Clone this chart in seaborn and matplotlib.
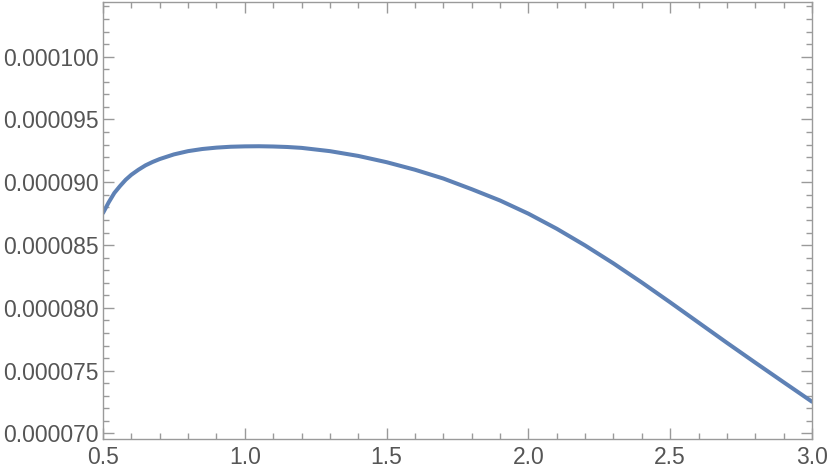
import matplotlib
matplotlib.use("Agg")
import matplotlib.pyplot as plt
import matplotlib.ticker as mticker
import seaborn as sns
import pandas as pd

x_vals = [0.50, 0.52, 0.54, 0.56, 0.58, 0.60, 0.625, 0.65, 0.675, 0.70,
          0.75, 0.80, 0.85, 0.90, 0.95, 1.00, 1.05, 1.10, 1.15, 1.20,
          1.30, 1.40, 1.50, 1.60, 1.70, 1.80, 1.90, 2.00, 2.10, 2.20,
          2.30, 2.40, 2.50, 2.60, 2.70, 2.80, 2.90, 3.00]
y_vals_e5 = [8.755, 8.84, 8.915, 8.97, 9.02, 9.06, 9.10, 9.135, 9.162, 9.185,
             9.222, 9.248, 9.265, 9.276, 9.283, 9.286, 9.287, 9.285, 9.281, 9.274,
             9.248, 9.21, 9.16, 9.10, 9.03, 8.945, 8.855, 8.75, 8.63, 8.497,
             8.354, 8.202, 8.044, 7.883, 7.722, 7.564, 7.408, 7.253]
x_ticks = [0.5, 1.0, 1.5, 2.0, 2.5, 3.0]
y_ticks = [0.000070, 0.000075, 0.000080, 0.000085, 0.000090, 0.000095, 0.000100]

df = pd.DataFrame({"x": x_vals, "y": [v * 1e-5 for v in y_vals_e5]})

sns.set_theme(style="ticks")
plt.rcParams["font.family"] = ["Liberation Sans", "DejaVu Sans"]

fig = plt.figure(figsize=(8.3, 4.75), dpi=100)
ax = fig.add_axes([103 / 830, 1 - 439 / 475, (812 - 103) / 830, (439 - 2) / 475])

sns.lineplot(data=df, x="x", y="y", ax=ax, color="#5E81B5", linewidth=2.9)

ax.set_xlim(0.5, 3.0)
ax.set_ylim(6.956e-5, 1.04355e-4)
ax.set_xticks(x_ticks)
ax.set_yticks(y_ticks)
ax.xaxis.set_major_formatter(mticker.FormatStrFormatter("%.1f"))
ax.yaxis.set_major_formatter(mticker.FormatStrFormatter("%.6f"))
ax.xaxis.set_minor_locator(mticker.MultipleLocator(0.1))
ax.yaxis.set_minor_locator(mticker.MultipleLocator(1e-6))
ax.set_xlabel("")
ax.set_ylabel("")

frame_col = "#9a9a9a"
for s in ax.spines.values():
    s.set_visible(True)
    s.set_color(frame_col)
    s.set_linewidth(1.0)
ax.tick_params(which="both", direction="in", top=True, right=True,
               color=frame_col, width=1.0)
ax.tick_params(which="major", length=8)
ax.tick_params(which="minor", length=4.5)
ax.tick_params(axis="both", which="major", labelsize=16.5, labelcolor="#555555")
ax.tick_params(axis="y", pad=3)
ax.tick_params(axis="x", pad=5)

fig.savefig("out.png", dpi=100)
